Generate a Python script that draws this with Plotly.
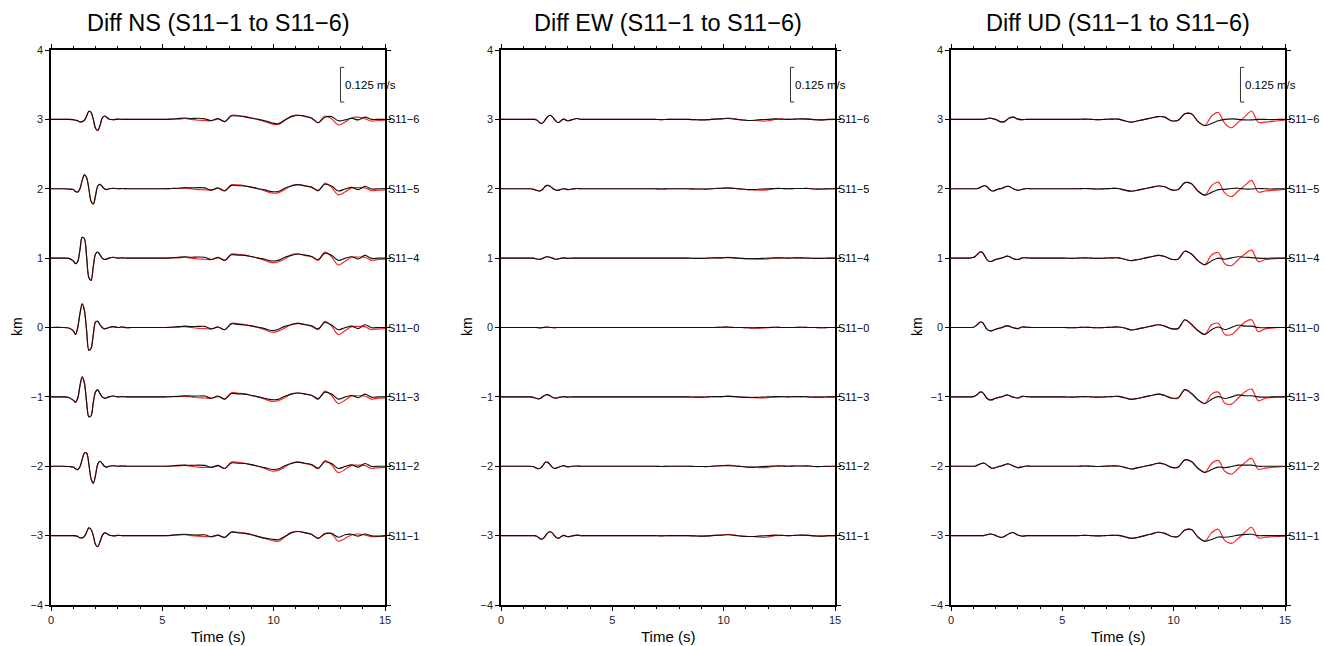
import plotly.graph_objects as go

# ---------------- data (velocity in mm/s, sampled at times T in s) ----------------
T = [0, 0.5, 0.8, 1.0, 1.1, 1.2, 1.3, 1.4, 1.5, 1.6, 1.7, 1.8, 1.9, 2.0, 2.1, 2.2, 2.3, 2.4, 2.5, 2.6,
     2.8, 3.0, 3.2, 3.4, 3.6, 3.9, 4.2, 4.5, 4.8, 5.1, 5.4, 5.7, 6.0, 6.3, 6.6, 6.9, 7.2, 7.5, 7.8, 8.1,
     8.4, 8.7, 9.0, 9.3, 9.6, 9.9, 10.2, 10.5, 10.8, 11.1, 11.4, 11.7, 12.0, 12.3, 12.6, 12.9, 13.2, 13.5, 13.8, 14.1,
     14.4, 14.7, 15.0]

STATIONS = ["S11\u22126", "S11\u22125", "S11\u22124", "S11\u22120", "S11\u22123", "S11\u22122", "S11\u22121"]
OFFSETS_KM = [3, 2, 1, 0, -1, -2, -3]
COMPONENTS = ["NS", "EW", "UD"]
SCALE_BAR_MS = 0.125      # m/s
SCALE_BAR_KM = 0.5        # km on the offset axis equal to SCALE_BAR_MS

# ---- NS ----
NS_S11_6_BLACK = [0,0,0,-1,-3,-5,-9,-8,-3,12,29,25,0,-32,-40,-22,5,12,8,1,-1,1,0,0,0,
                  0,0,0,0,0,1,3,5,3,4,2,-4,3,-8,12,12,9,5,0,-5,-12,-16,-2,10,15,12,5,-12,8,10,-5,-2,4,-2,8,0,0,0]
NS_S11_6_RED   = [0,0,0,-1,-3,-5,-9,-8,-3,12,29,25,0,-32,-40,-22,5,12,8,1,-1,1,0,0,0,
                  0,0,0,0,0,1,1,3,0,-3,-4,-5,1,-8,15,14,11,4,0,-8,-16,-18,-4,12,15,10,4,-12,12,2,-20,-10,6,8,2,-6,-4,-3]
NS_S11_5_BLACK = [0,0,-1,-3,-10,-12,0,30,50,40,0,-45,-55,-25,10,16,8,0,-3,0,2,0,1,0,0,
                  0,0,0,0,0,1,2,4,3,4,3,-5,3,-7,12,11,10,6,0,-4,-10,-10,2,10,15,11,6,-6,16,10,-8,-1,5,-3,9,-1,0,0]
NS_S11_5_RED   = [0,0,-1,-3,-10,-12,0,30,50,40,0,-45,-55,-25,10,16,8,0,-3,0,2,0,1,0,0,
                  0,0,0,0,0,1,1,2,0,-3,-4,-5,1,-8,14,14,11,5,0,-8,-15,-15,-3,12,15,10,5,-8,20,5,-22,-12,3,4,3,-7,-5,-4]
NS_S11_4_BLACK = [0,0,-1,-10,-20,-12,30,75,70,5,-70,-80,-30,15,22,12,0,-5,-3,0,3,0,1,0,0,
                  0,0,0,0,0,1,3,5,3,4,3,-5,3,-8,12,11,10,6,0,-4,-10,-8,3,10,15,11,6,-5,18,10,-8,-1,5,-3,10,-1,0,0]
NS_S11_4_RED   = [0,0,-1,-10,-20,-12,30,75,70,5,-70,-80,-30,15,22,12,0,-5,-3,0,3,0,1,0,0,
                  0,0,0,0,0,1,1,3,0,-3,-4,-5,1,-8,15,14,11,5,0,-8,-16,-14,-3,12,15,10,5,-8,22,5,-25,-12,3,4,3,-8,-5,-4]
NS_S11_0_BLACK = [0,0,-2,-12,-25,0,50,85,62,-12,-82,-75,-25,20,22,10,0,-5,-3,0,3,0,2,-1,0,
                  0,0,0,0,0,1,3,5,3,4,4,-5,2,-8,13,11,9,6,1,-4,-11,-7,4,10,15,11,6,-5,18,9,-8,-1,5,-4,10,-1,0,0]
NS_S11_0_RED   = [0,0,-2,-12,-25,0,50,85,62,-12,-82,-75,-25,20,22,10,0,-5,-3,0,3,0,2,-1,0,
                  0,0,0,0,0,1,1,3,0,-3,-4,-5,1,-8,15,14,11,5,0,-8,-17,-13,-2,12,15,10,5,-8,22,5,-25,-12,3,4,3,-8,-5,-4]
NS_S11_3_BLACK = [0,0,-2,-12,-19,-5,40,72,50,-20,-72,-68,-20,18,25,12,0,-5,-3,0,3,0,1,0,0,
                  0,0,0,0,0,1,2,4,3,3,3,-5,3,-8,12,11,10,5,0,-5,-10,-9,2,10,14,11,6,-6,17,10,-8,-1,5,-3,10,-1,0,0]
NS_S11_3_RED   = [0,0,-2,-12,-19,-5,40,72,50,-20,-72,-68,-20,18,25,12,0,-5,-3,0,3,0,1,0,0,
                  0,0,0,0,0,1,1,2,0,-3,-4,-5,1,-8,15,13,11,5,0,-8,-16,-14,-3,12,14,10,5,-9,21,5,-24,-12,3,4,3,-8,-5,-4]
NS_S11_2_BLACK = [0,0,-1,-3,-9,-12,-2,25,48,48,8,-45,-61,-32,8,18,10,0,-3,0,2,0,1,0,0,
                  0,0,0,0,0,1,3,4,3,4,3,-4,3,-8,12,11,10,6,0,-5,-11,-10,2,10,15,11,6,-7,16,10,-8,-1,5,-3,10,-1,0,0]
NS_S11_2_RED   = [0,0,-1,-3,-9,-12,-2,25,48,48,8,-45,-61,-32,8,18,10,0,-3,0,2,0,1,0,0,
                  0,0,0,0,0,1,1,3,0,-3,-4,-4,1,-8,15,14,11,5,0,-8,-17,-15,-3,12,15,10,5,-9,20,5,-23,-12,3,4,3,-8,-5,-4]
NS_S11_1_BLACK = [0,0,0,0,-1,-3,-8,-8,-3,12,28,22,0,-32,-40,-22,0,10,8,2,-1,1,0,0,0,
                  0,0,0,0,0,1,4,5,3,2,3,-4,2,-6,12,10,8,4,-3,-9,-12,-15,-3,10,15,11,5,-10,6,8,-6,3,5,-2,6,-1,-2,0]
NS_S11_1_RED   = [0,0,0,0,-1,-3,-8,-8,-3,12,28,22,0,-32,-40,-22,0,10,8,2,-1,1,0,0,0,
                  0,0,0,0,0,1,2,3,0,-2,-3,-4,1,-7,14,12,9,3,-4,-10,-17,-21,-5,12,15,10,4,-10,8,6,-20,-10,2,6,2,-4,-3,-2]

# ---- EW ----
EW_S11_6_BLACK = [0,0,0,0,0,0,0,0,0,-2,-9,-15,-11,0,10,15,10,0,-9,-11,1,-5,-1,3,0,
                  0,0,0,0,0,0,0,0,0,0,0,-1,0,0,0,0,-1,-2,-1,1,2,3,1,-2,-4,-3,-1,0,2,1,0,1,2,1,-1,-2,0,0]
EW_S11_6_RED   = [0,0,0,0,0,0,0,0,0,-2,-9,-15,-11,0,10,15,10,0,-9,-11,1,-5,-1,3,0,
                  0,0,0,0,0,0,0,0,0,0,0,-1,0,0,0,0,-1,-2,-1,1,2,5,2,-2,-4,-4,-6,-5,0,1,0,1,2,1,-1,-2,-1,0]
EW_S11_5_BLACK = [0,0,0,0,0,0,0,-1,-3,-6,-8,-6,0,10,12,9,3,-3,-6,-5,0,-3,-1,1,0,
                  0,0,0,0,0,0,0,0,0,0,0,-1,0,0,0,0,-1,-1,-1,1,2,2,1,-1,-3,-3,-1,0,1,1,0,1,1,1,-1,-1,0,0]
EW_S11_5_RED   = [0,0,0,0,0,0,0,-1,-3,-6,-8,-6,0,10,12,9,3,-3,-6,-5,0,-3,-1,1,0,
                  0,0,0,0,0,0,0,0,0,0,0,-1,0,0,0,0,-1,-1,-1,1,2,4,2,-1,-3,-4,-5,-4,0,1,0,1,1,1,-1,-1,-1,0]
EW_S11_4_BLACK = [0,0,0,0,0,0,0,0,-1,-3,-4,-3,0,4,5,3,0,-3,-4,-2,1,-1,0,0,0,
                  0,0,0,0,0,0,0,0,0,0,0,0,0,0,0,0,-1,-1,0,1,1,2,1,-1,-2,-2,-1,0,1,1,0,1,1,0,-1,-1,0,0]
EW_S11_4_RED   = [0,0,0,0,0,0,0,0,-1,-3,-4,-3,0,4,5,3,0,-3,-4,-2,1,-1,0,0,0,
                  0,0,0,0,0,0,0,0,0,0,0,0,0,0,0,0,-1,-1,0,1,1,3,1,-1,-2,-3,-4,-3,0,1,0,1,1,0,-1,-1,0,0]
EW_S11_0_BLACK = [0,0,0,0,0,0,0,0,0,0,-1,-1,0,1,1,0,0,-1,0,0,0,0,0,0,0,
                  0,0,0,0,0,0,0,0,0,0,0,0,0,0,0,0,0,0,0,0,1,1,0,0,-1,-1,0,0,1,0,0,0,1,0,0,-1,0,0]
EW_S11_0_RED   = [0,0,0,0,0,0,0,0,0,0,-1,-1,0,1,1,0,0,-1,0,0,0,0,0,0,0,
                  0,0,0,0,0,0,0,0,0,0,0,0,0,0,0,0,0,0,0,0,1,2,0,0,-1,-2,-2,-1,1,0,0,0,1,0,0,-1,0,0]
EW_S11_3_BLACK = [0,0,0,0,0,0,0,-1,-3,-6,-7,-4,2,7,8,4,-1,-4,-4,-2,1,-1,0,0,0,
                  0,0,0,0,0,0,0,0,0,0,0,0,0,0,0,0,-1,-1,0,1,1,2,1,-1,-2,-2,-1,0,1,1,0,1,1,0,-1,-1,0,0]
EW_S11_3_RED   = [0,0,0,0,0,0,0,-1,-3,-6,-7,-4,2,7,8,4,-1,-4,-4,-2,1,-1,0,0,0,
                  0,0,0,0,0,0,0,0,0,0,0,0,0,0,0,0,-1,-1,0,1,1,3,1,-1,-2,-3,-4,-3,0,1,0,1,1,0,-1,-1,0,0]
EW_S11_2_BLACK = [0,0,0,0,0,0,0,-1,-3,-7,-9,-5,5,15,14,6,-3,-8,-6,-3,2,-2,0,1,0,
                  0,0,0,0,0,0,0,0,0,0,0,-1,0,0,0,0,-1,-1,-1,1,2,2,1,-1,-3,-3,-1,0,1,1,0,1,1,1,-1,-1,0,0]
EW_S11_2_RED   = [0,0,0,0,0,0,0,-1,-3,-7,-9,-5,5,15,14,6,-3,-8,-6,-3,2,-2,0,1,0,
                  0,0,0,0,0,0,0,0,0,0,0,-1,0,0,0,0,-1,-1,-1,1,2,4,2,-1,-3,-4,-5,-4,0,1,0,1,1,1,-1,-1,-1,0]
EW_S11_1_BLACK = [0,0,0,0,0,0,0,0,0,-2,-8,-13,-10,0,10,14,10,0,-8,-9,1,-4,-1,2,0,
                  0,0,0,0,0,0,0,0,0,0,0,-1,0,0,0,0,-1,-2,-1,1,2,3,1,-2,-3,-3,-1,0,2,1,0,1,2,1,-1,-2,0,0]
EW_S11_1_RED   = [0,0,0,0,0,0,0,0,0,-2,-8,-13,-10,0,10,14,10,0,-8,-9,1,-4,-1,2,0,
                  0,0,0,0,0,0,0,0,0,0,0,-1,0,0,0,0,-1,-2,-1,1,2,5,2,-2,-3,-4,-6,-5,0,1,0,1,2,1,-1,-2,-1,0]

# ---- UD ----
UD_S11_6_BLACK = [0,0,0,0,0,0,0,0,1,2,4,4,2,0,-4,-8,-9,-8,-2,4,8,1,-1,0,0,
                  0,0,0,0,0,0,0,1,0,-1,0,1,1,-5,-10,-5,0,5,10,8,-5,-3,20,20,-8,-22,-15,-5,0,2,0,-2,-2,0,0,-1,0,0]
UD_S11_6_RED   = [0,0,0,0,0,0,0,0,1,2,4,4,2,0,-4,-8,-9,-8,-2,4,8,1,-1,0,0,
                  0,0,0,0,0,0,0,1,0,-1,0,1,1,-5,-10,-5,0,5,10,8,-5,-3,20,20,-8,-22,12,25,-15,-30,-10,10,30,-10,-10,-8,-5,-3]
UD_S11_5_BLACK = [0,0,0,0,0,1,4,9,11,9,0,-6,-8,-5,-2,0,2,6,8,9,0,-6,-2,1,0,
                  0,0,0,0,0,0,0,1,0,-1,0,1,1,-5,-9,-5,0,5,10,7,-4,-3,22,18,-9,-23,-13,-3,-2,1,2,-1,-1,1,0,-1,0,0]
UD_S11_5_RED   = [0,0,0,0,0,1,4,9,11,9,0,-6,-8,-5,-2,0,2,6,8,9,0,-6,-2,1,0,
                  0,0,0,0,0,0,0,1,0,-1,0,1,1,-5,-9,-5,0,5,10,7,-4,-3,22,18,-9,-23,11,24,-16,-28,-8,12,30,-12,-8,-6,-4,-2]
UD_S11_4_BLACK = [0,0,0,2,7,15,22,21,10,-4,-11,-12,-9,-5,-3,-1,1,4,7,6,-2,-5,1,1,0,
                  0,0,0,0,0,-1,0,1,0,-1,0,1,1,-4,-9,-5,0,5,10,6,-4,-3,25,15,-10,-24,-10,0,-4,1,5,3,2,0,-1,0,0,0]
UD_S11_4_RED   = [0,0,0,2,7,15,22,21,10,-4,-11,-12,-9,-5,-3,-1,1,4,7,6,-2,-5,1,1,0,
                  0,0,0,0,0,-1,0,1,0,-1,0,1,1,-4,-9,-5,0,5,10,6,-4,-4,25,14,-10,-24,11,20,-20,-27,-6,15,29,-13,-6,-3,-1,0]
UD_S11_0_BLACK = [0,0,0,1,5,12,19,19,8,-5,-11,-12,-10,-6,-4,-2,0,4,6,5,-1,-4,2,1,0,
                  0,0,0,0,0,-1,0,1,0,-1,0,1,2,-2,-9,-5,0,5,10,5,-4,-3,28,12,-12,-25,-8,2,-8,0,9,5,5,0,-1,0,0,0]
UD_S11_0_RED   = [0,0,0,1,5,12,19,19,8,-5,-11,-12,-10,-6,-4,-2,0,4,6,5,-1,-4,2,1,0,
                  0,0,0,0,0,-1,0,1,0,-1,0,1,2,-2,-9,-5,0,5,10,5,-5,-5,27,10,-12,-25,10,15,-25,-25,-3,20,28,-15,-5,-2,0,0]
UD_S11_3_BLACK = [0,0,0,1,4,10,17,17,8,-4,-10,-11,-9,-5,-3,-1,1,4,7,5,-1,-4,2,1,0,
                  0,0,0,0,0,-1,0,1,0,-1,0,1,2,-3,-9,-5,0,5,10,5,-4,-3,26,13,-11,-24,-9,1,-6,0,7,4,4,0,-1,0,0,0]
UD_S11_3_RED   = [0,0,0,1,4,10,17,17,8,-4,-10,-11,-9,-5,-3,-1,1,4,7,5,-1,-4,2,1,0,
                  0,0,0,0,0,-1,0,1,0,-1,0,1,2,-3,-9,-5,0,5,10,5,-5,-5,26,11,-11,-24,10,17,-23,-26,-4,18,28,-14,-5,-2,0,0]
UD_S11_2_BLACK = [0,0,0,0,1,4,8,11,11,6,-1,-6,-7,-5,-2,0,2,5,8,8,1,-5,-2,1,0,
                  0,0,0,0,0,0,0,1,0,-1,0,1,1,-4,-10,-5,0,5,11,7,-4,-3,23,17,-8,-22,-12,-3,-5,-1,4,4,4,0,0,0,0,0]
UD_S11_2_RED   = [0,0,0,0,1,4,8,11,11,6,-1,-6,-7,-5,-2,0,2,5,8,8,1,-5,-2,1,0,
                  0,0,0,0,0,0,0,1,0,-1,0,1,1,-4,-10,-5,0,5,11,7,-4,-4,23,16,-8,-22,10,21,-18,-28,-8,13,29,-11,-7,-4,-2,-1]
UD_S11_1_BLACK = [0,0,0,0,0,0,0,0,1,3,5,6,4,1,-3,-6,-6,-3,2,7,11,2,-2,0,0,
                  0,0,0,0,0,0,0,1,0,-1,0,1,1,-4,-10,-6,0,6,12,8,-3,-3,20,22,-6,-20,-14,-5,-6,-3,2,4,5,0,0,0,0,0]
UD_S11_1_RED   = [0,0,0,0,0,0,0,0,1,3,5,6,4,1,-3,-6,-6,-3,2,7,11,2,-2,0,0,
                  0,0,0,0,0,0,0,1,0,-1,0,1,1,-4,-10,-6,0,6,12,8,-3,-3,20,22,-6,-20,10,23,-18,-28,-10,12,30,-8,-6,-4,-3,-2]

TRACES = {
    "NS": [(NS_S11_6_BLACK, NS_S11_6_RED), (NS_S11_5_BLACK, NS_S11_5_RED), (NS_S11_4_BLACK, NS_S11_4_RED),
           (NS_S11_0_BLACK, NS_S11_0_RED), (NS_S11_3_BLACK, NS_S11_3_RED), (NS_S11_2_BLACK, NS_S11_2_RED),
           (NS_S11_1_BLACK, NS_S11_1_RED)],
    "EW": [(EW_S11_6_BLACK, EW_S11_6_RED), (EW_S11_5_BLACK, EW_S11_5_RED), (EW_S11_4_BLACK, EW_S11_4_RED),
           (EW_S11_0_BLACK, EW_S11_0_RED), (EW_S11_3_BLACK, EW_S11_3_RED), (EW_S11_2_BLACK, EW_S11_2_RED),
           (EW_S11_1_BLACK, EW_S11_1_RED)],
    "UD": [(UD_S11_6_BLACK, UD_S11_6_RED), (UD_S11_5_BLACK, UD_S11_5_RED), (UD_S11_4_BLACK, UD_S11_4_RED),
           (UD_S11_0_BLACK, UD_S11_0_RED), (UD_S11_3_BLACK, UD_S11_3_RED), (UD_S11_2_BLACK, UD_S11_2_RED),
           (UD_S11_1_BLACK, UD_S11_1_RED)],
}

# ---------------- figure ----------------
W, H = 1325, 646
KM_PER_MMS = SCALE_BAR_KM / (SCALE_BAR_MS * 1000.0)
FONT = "Liberation Sans, Arial, Helvetica, sans-serif"

X_DOMAINS = [(51 / W, 385 / W), (501 / W, 835 / W), (951 / W, 1285 / W)]
Y_DOMAIN = (1 - 605 / H, 1 - 50 / H)

fig = go.Figure()

for p, comp in enumerate(COMPONENTS):
    xa = "x" if p == 0 else f"x{p + 1}"
    ya = "y" if p == 0 else f"y{p + 1}"
    for color, which in (("#ff2020", 1), ("#111111", 0)):
        for (pair, off) in zip(TRACES[comp], OFFSETS_KM):
            vals = pair[which]
            assert len(vals) == len(T), (comp, off, which, len(vals))
            fig.add_trace(go.Scatter(
                x=T, y=[off + v * KM_PER_MMS for v in vals], mode="lines",
                line=dict(color=color, width=1.15, shape="spline", smoothing=0.9),
                xaxis=xa, yaxis=ya, showlegend=False, hoverinfo="skip"))

axis_common = dict(showline=True, linecolor="black", linewidth=1.5, mirror="ticks",
                   ticks="outside", tickcolor="black", tickwidth=1, ticklen=4,
                   showgrid=False, zeroline=False, automargin=False,
                   tickfont=dict(family=FONT, size=11, color="#222222"))

layout = dict(width=W, height=H, margin=dict(l=0, r=0, t=0, b=0, pad=0, autoexpand=False),
              paper_bgcolor="white", plot_bgcolor="white", showlegend=False,
              font=dict(family=FONT, color="black"))
annotations = []
shapes = []

for p, comp in enumerate(COMPONENTS):
    n = "" if p == 0 else str(p + 1)
    xa = "x" + n
    ya = "y" + n
    layout["xaxis" + n] = dict(domain=list(X_DOMAINS[p]), range=[0, 15], tick0=0, dtick=5,
                               minor=dict(ticks="outside", ticklen=2, dtick=1, tick0=0, tickcolor="black", tickwidth=1),
                               anchor=ya, **axis_common)
    layout["yaxis" + n] = dict(domain=list(Y_DOMAIN), range=[-4, 4], tick0=0, dtick=1,
                               anchor=xa, **axis_common)
    xc = (X_DOMAINS[p][0] + X_DOMAINS[p][1]) / 2
    annotations.append(dict(text=f"Diff {comp} (S11\u22121 to S11\u22126)", xref="paper", yref="paper",
                            x=xc, y=1 - 23 / H, xanchor="center", yanchor="middle", showarrow=False,
                            font=dict(family=FONT, size=23.5, color="black")))
    annotations.append(dict(text="Time (s)", xref="paper", yref="paper", x=xc, y=1 - 636 / H,
                            xanchor="center", yanchor="middle", showarrow=False,
                            font=dict(family=FONT, size=15, color="black")))
    annotations.append(dict(text="km", xref="paper", yref="paper", x=(17 + 450 * p) / W, y=1 - 327 / H,
                            xanchor="center", yanchor="middle", textangle=-90, showarrow=False,
                            font=dict(family=FONT, size=14, color="black")))
    for st, off in zip(STATIONS, OFFSETS_KM):
        annotations.append(dict(text=st, xref=xa + " domain", yref=ya, x=1, y=off, xanchor="left",
                                yanchor="middle", xshift=1, showarrow=False,
                                font=dict(family=FONT, size=11, color="black")))
    # scale bar
    bx, by = 13.0, 3.5
    half = SCALE_BAR_KM / 2
    shapes.append(dict(type="line", xref=xa, yref=ya, x0=bx, x1=bx, y0=by - half, y1=by + half,
                       line=dict(color="#333333", width=1)))
    for yy in (by - half, by + half):
        shapes.append(dict(type="line", xref=xa, yref=ya, x0=bx, x1=bx + 0.17, y0=yy, y1=yy,
                           line=dict(color="#333333", width=1)))
    annotations.append(dict(text=f"{SCALE_BAR_MS} m/s", xref=xa, yref=ya, x=bx + 0.1, y=by,
                            xanchor="left", yanchor="middle", showarrow=False,
                            font=dict(family=FONT, size=11.5, color="black")))

layout["annotations"] = annotations
layout["shapes"] = shapes
fig.update_layout(**layout)

fig.write_html("out.html", include_plotlyjs=True, config={"displayModeBar": False},
               post_script="document.body.style.margin='0';document.body.style.overflow='hidden';")
